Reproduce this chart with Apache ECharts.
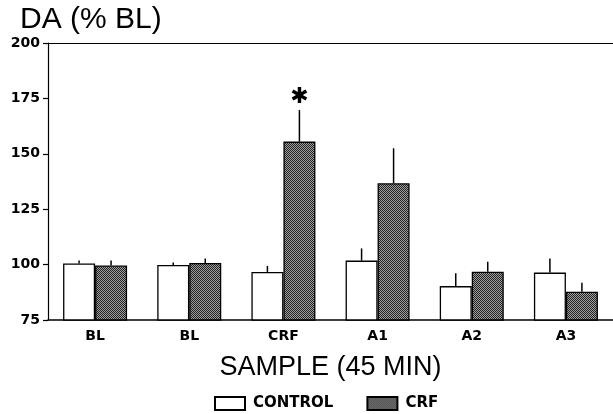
<!DOCTYPE html>
<html><head><meta charset="utf-8">
<script src="https://cdn.jsdelivr.net/npm/echarts@6/dist/echarts.min.js"></script>
<style>html,body{margin:0;padding:0;background:#fff}#c{width:613px;height:414px}</style>
</head><body><div id="c"></div>
<script>
const categories = ['BL', 'BL', 'CRF', 'A1', 'A2', 'A3'];
const controlMean = [100.5, 99.8, 96.7, 101.8, 90.3, 96.4];
const controlErr  = [101.8, 101.0, 99.4, 107.3, 96.1, 102.8];
const crfMean     = [99.6, 100.7, 155.5, 136.7, 96.8, 87.8];
const crfErr      = [101.8, 102.8, 169.8, 152.5, 101.3, 91.8];
const crfSignificant = [false, false, true, false, false, false];
const yTicks = { min: 75, max: 200, interval: 25 };

const BAR_W = 32;
const FONT = 'DejaVu Sans';

// hatch pattern
const pc = document.createElement('canvas');
pc.width = 4; pc.height = 4;
const pctx = pc.getContext('2d');
pctx.fillStyle = '#a0a0a0'; pctx.fillRect(0, 0, 4, 4);
pctx.fillStyle = '#222';
for (let i = 0; i < 4; i++) { pctx.fillRect(i, i, 1, 1); pctx.fillRect(i, (i + 2) % 4, 1, 1); }
const hatch = { image: pc, repeat: 'repeat' };

function errRender(sign) {
  return function (params, api) {
    const top = api.coord([api.value(0), api.value(1)]);
    const base = api.coord([api.value(0), api.value(2)]);
    const x = top[0] + sign * BAR_W / 2;
    const children = [{ type: 'line', shape: { x1: x, y1: base[1], x2: x, y2: top[1] },
                        style: { stroke: '#000', lineWidth: 1.5 } }];
    if (api.value(3) === 1) {
      children.push({ type: 'text', style: { text: '✱', x: x, y: top[1] - 2, align: 'center',
        verticalAlign: 'bottom', fontSize: 22, fontWeight: 'bold', fontFamily: FONT, fill: '#000' } });
    }
    return { type: 'group', children: children };
  };
}

const chart = echarts.init(document.getElementById('c'));
chart.setOption({
  animation: false,
  backgroundColor: '#fff',
  title: {
    text: 'DA (% BL)', left: 15, top: 0,
    textStyle: { fontFamily: 'Liberation Sans', fontSize: 30, fontWeight: 'normal', color: '#000' }
  },
  grid: { left: 48, right: -8, top: 43, bottom: 94 },
  xAxis: [{
    type: 'category', data: categories, position: 'bottom',
    axisLine: { lineStyle: { color: '#000', width: 1.5 } },
    axisTick: { show: false },
    axisLabel: { color: '#000', fontFamily: FONT, fontWeight: 'bold', fontSize: 14, margin: 9 },
    name: 'SAMPLE (45 MIN)', nameLocation: 'middle', nameGap: 34,
    nameTextStyle: { color: '#000', fontFamily: 'Liberation Sans', fontSize: 27 }
  }, {
    type: 'category', data: categories, position: 'top',
    axisLine: { show: true, lineStyle: { color: '#000', width: 1.2 } },
    axisTick: { show: false }, axisLabel: { show: false }
  }],
  yAxis: {
    type: 'value', min: yTicks.min, max: yTicks.max, interval: yTicks.interval,
    axisLine: { show: true, lineStyle: { color: '#000', width: 1.2 } },
    axisTick: { show: true, length: 5, lineStyle: { color: '#000', width: 1.2 } },
    axisLabel: { color: '#000', fontFamily: FONT, fontWeight: 'bold', fontSize: 14, margin: 8 },
    splitLine: { show: false }
  },
  legend: {
    top: 391, left: 209, itemGap: 33, itemWidth: 30, itemHeight: 13, icon: 'rect',
    data: ['CONTROL', 'CRF'],
    textStyle: { color: '#000', fontFamily: FONT, fontWeight: 'bold', fontSize: 15, padding: [0, 0, 0, 3] }
  },
  series: [
    {
      name: 'CONTROL', type: 'bar', data: controlMean, barWidth: BAR_W, barGap: '0%',
      itemStyle: { color: '#fff', borderColor: '#000', borderWidth: 1.3 }
    },
    {
      name: 'CRF', type: 'bar', data: crfMean, barWidth: BAR_W, barGap: '0%',
      itemStyle: { color: hatch, borderColor: '#000', borderWidth: 1.3 }
    },
    {
      type: 'custom', silent: true, z: 5,
      data: categories.map((c, i) => [i, controlErr[i], controlMean[i], 0]),
      renderItem: errRender(-1)
    },
    {
      type: 'custom', silent: true, z: 5,
      data: categories.map((c, i) => [i, crfErr[i], crfMean[i], crfSignificant[i] ? 1 : 0]),
      renderItem: errRender(1)
    }
  ]
});
</script>
</body></html>
